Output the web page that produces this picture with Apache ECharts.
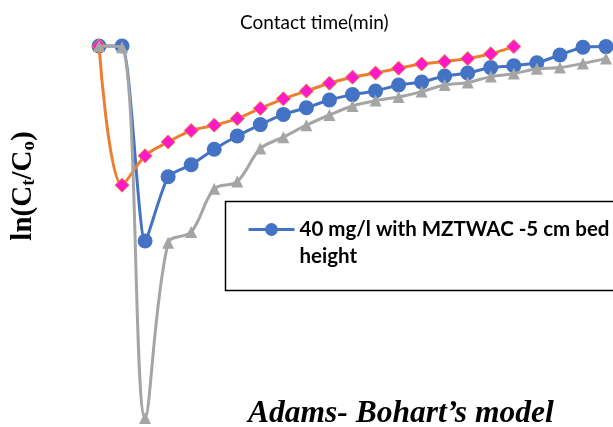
<!DOCTYPE html>
<html>
<head>
<meta charset="utf-8">
<script src="https://cdn.jsdelivr.net/npm/echarts@6/dist/echarts.min.js"></script>
<style>
html,body{margin:0;padding:0;background:#fff;}
#chart{width:613px;height:427px;}
</style>
</head>
<body>
<div id="chart"></div>
<script>
// Contact time points (min) - evenly spaced categories
var times = ['0','10','20','30','40','50','60','70','80','90','100','110','120','130','140','150','160','170','180','190','200','210','220'];

// ln(Ct/C0) values
var blueName = '40 mg/l with MZTWAC -5 cm bed height';
var blueValues = [0, 0, -3.25, -2.18, -1.98, -1.72, -1.50, -1.31, -1.14, -1.03, -0.90, -0.81, -0.75, -0.65, -0.60, -0.50, -0.45, -0.36, -0.33, -0.28, -0.15, -0.02, -0.01];

var orangeName = 'Series 2';
var orangeValues = [0, -2.32, -1.83, -1.60, -1.41, -1.32, -1.21, -1.04, -0.88, -0.75, -0.62, -0.52, -0.45, -0.37, -0.30, -0.26, -0.21, -0.13, -0.01];

var greyName = 'Series 3';
var greyValues = [0, -0.02, -6.20, -3.28, -3.10, -2.38, -2.26, -1.71, -1.52, -1.32, -1.15, -1.00, -0.91, -0.85, -0.76, -0.65, -0.61, -0.51, -0.46, -0.38, -0.36, -0.29, -0.21];

var chart = echarts.init(document.getElementById('chart'), null, {renderer: 'canvas'});

var option = {
  backgroundColor: '#ffffff',
  animation: false,
  title: [
    {
      text: 'Contact time(min)',
      left: 235, top: 8,
      textStyle: {fontFamily: 'Lato', fontWeight: 'normal', fontSize: 19, color: '#000'}
    },
    {
      text: 'Adams- Bohart\u2019s model',
      left: 243, top: 393,
      textStyle: {fontFamily: 'Liberation Serif', fontWeight: 'bold', fontStyle: 'italic', fontSize: 31.5, color: '#000'}
    }
  ],
  graphic: [
    {
      type: 'rect',
      shape: {x: 225.5, y: 201.5, width: 420, height: 89},
      style: {fill: '#fff', stroke: '#000', lineWidth: 1.5},
      z: 5
    }
  ],
  legend: {
    data: [blueName],
    left: 247,
    top: 192,
    padding: 0,
    itemWidth: 46,
    itemHeight: 16,
    itemGap: 4,
    z: 10,
    lineStyle: {width: 3, color: '#4472C4'},
    formatter: function () { return '{e| }\n{a|40 mg/l with MZTWAC -5 cm bed}\n{a|height}'; },
    textStyle: {
      fontFamily: 'Lato', fontWeight: 'bold', fontSize: 20.5, color: '#000',
      rich: {
        e: {fontFamily: 'Lato', fontSize: 20.5, lineHeight: 27},
        a: {fontFamily: 'Lato', fontWeight: 'bold', fontSize: 20.5, lineHeight: 27, color: '#000'}
      }
    }
  },
  grid: {left: 99, right: 7, top: 16, bottom: 3, outerBoundsMode: 'none', containLabel: false},
  xAxis: {
    type: 'category',
    data: times,
    boundaryGap: false,
    axisLine: {show: false},
    axisTick: {show: false},
    axisLabel: {show: false},
    splitLine: {show: false}
  },
  yAxis: {
    type: 'value',
    min: -6.3,
    max: 0.5,
    axisLine: {show: false},
    axisTick: {show: false},
    axisLabel: {show: false},
    splitLine: {show: false},
    name: '{a|ln(C}{s|t}{a|/C}{s|o}{a|)}',
    nameLocation: 'middle',
    nameRotate: 90,
    nameGap: 60,
    nameTextStyle: {
      padding: [0, 0, 0, 68],
      rich: {
        a: {fontFamily: 'Liberation Serif', fontWeight: 'bold', fontSize: 29, lineHeight: 31, color: '#000'},
        s: {fontFamily: 'Liberation Serif', fontWeight: 'bold', fontSize: 19, lineHeight: 19, verticalAlign: 'bottom', color: '#000'}
      }
    }
  },
  series: [
    {
      name: blueName,
      type: 'line',
      data: blueValues,
      smooth: 0.2,
      symbol: 'circle',
      symbolSize: 15,
      showSymbol: true,
      showAllSymbol: true,
      clip: false,
      lineStyle: {color: '#4472C4', width: 3},
      itemStyle: {color: '#4472C4'},
      z: 2
    },
    {
      name: orangeName,
      type: 'line',
      data: orangeValues,
      smooth: 0.35,
      symbol: 'diamond',
      symbolSize: 14,
      showSymbol: true,
      showAllSymbol: true,
      clip: false,
      lineStyle: {color: '#ED7D31', width: 3},
      itemStyle: {color: '#FF19C8', borderColor: '#ED7D31', borderWidth: 1},
      z: 3
    },
    {
      name: greyName,
      type: 'line',
      data: greyValues,
      smooth: 0.35,
      symbol: 'triangle',
      symbolSize: 12,
      showSymbol: true,
      showAllSymbol: true,
      clip: false,
      lineStyle: {color: '#A5A5A5', width: 3},
      itemStyle: {color: '#A5A5A5'},
      z: 4
    }
  ]
};
chart.setOption(option);
</script>
</body>
</html>
